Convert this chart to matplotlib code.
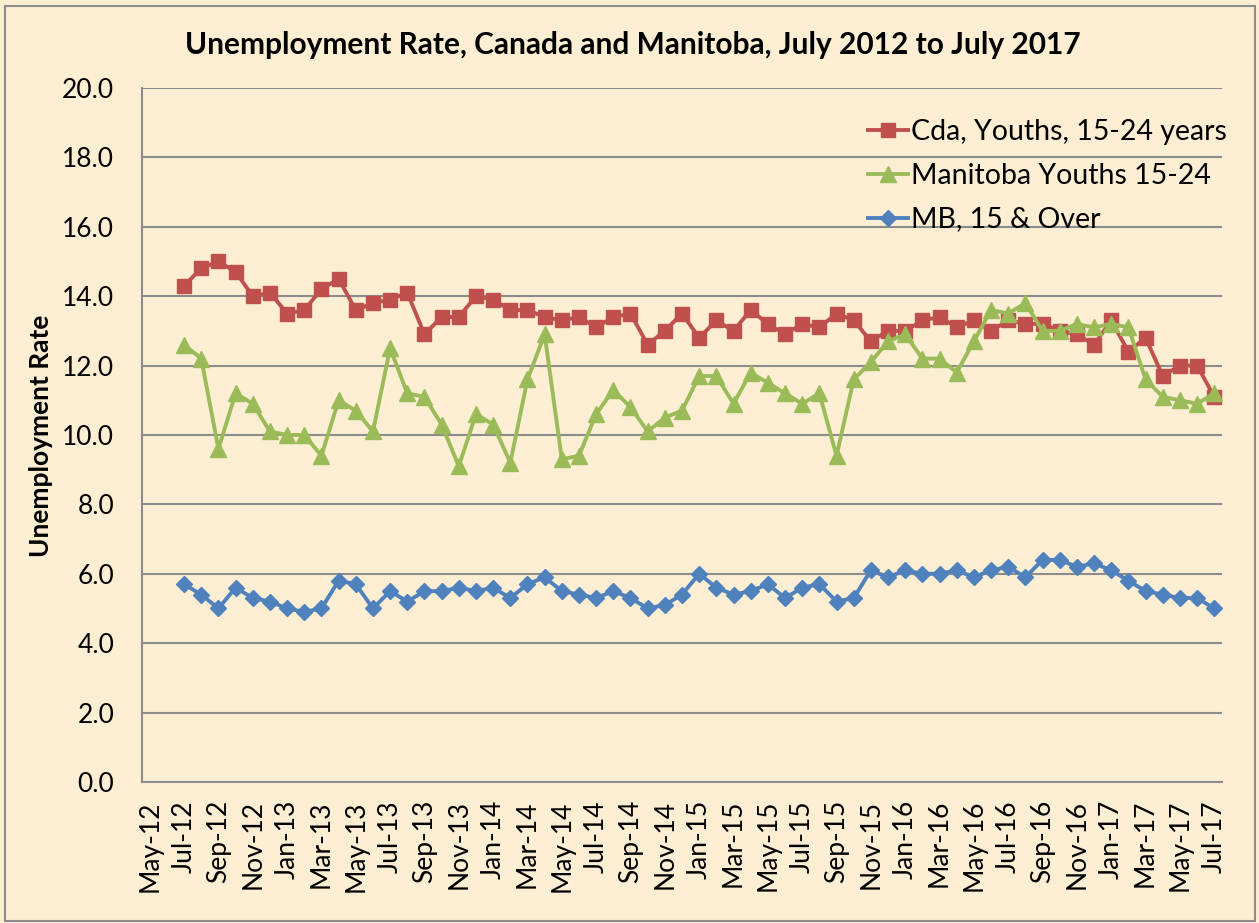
import matplotlib
matplotlib.use("Agg")
import matplotlib.pyplot as plt
from matplotlib.patches import Rectangle

# months Jul-12 .. Jul-17, x position = month index (Jul-12 = 0)
cda_youth = [14.3, 14.8, 15.0, 14.7, 14.0, 14.1, 13.5, 13.6, 14.2, 14.5,
             13.6, 13.8, 13.9, 14.1, 12.9, 13.4, 13.4, 14.0, 13.9, 13.6,
             13.6, 13.4, 13.3, 13.4, 13.1, 13.4, 13.5, 12.6, 13.0, 13.5,
             12.8, 13.3, 13.0, 13.6, 13.2, 12.9, 13.2, 13.1, 13.5, 13.3,
             12.7, 13.0, 13.0, 13.3, 13.4, 13.1, 13.3, 13.0, 13.3, 13.2,
             13.2, 13.0, 12.9, 12.6, 13.3, 12.4, 12.8, 11.7, 12.0, 12.0,
             11.1]
mb_youth = [12.6, 12.2, 9.6, 11.2, 10.9, 10.1, 10.0, 10.0, 9.4, 11.0,
            10.7, 10.1, 12.5, 11.2, 11.1, 10.3, 9.1, 10.6, 10.3, 9.2,
            11.6, 12.9, 9.3, 9.4, 10.6, 11.3, 10.8, 10.1, 10.5, 10.7,
            11.7, 11.7, 10.9, 11.8, 11.5, 11.2, 10.9, 11.2, 9.4, 11.6,
            12.1, 12.7, 12.9, 12.2, 12.2, 11.8, 12.7, 13.6, 13.5, 13.8,
            13.0, 13.0, 13.2, 13.1, 13.2, 13.1, 11.6, 11.1, 11.0, 10.9,
            11.2]
mb_all = [5.7, 5.4, 5.0, 5.6, 5.3, 5.2, 5.0, 4.9, 5.0, 5.8,
          5.7, 5.0, 5.5, 5.2, 5.5, 5.5, 5.6, 5.5, 5.6, 5.3,
          5.7, 5.9, 5.5, 5.4, 5.3, 5.5, 5.3, 5.0, 5.1, 5.4,
          6.0, 5.6, 5.4, 5.5, 5.7, 5.3, 5.6, 5.7, 5.2, 5.3,
          6.1, 5.9, 6.1, 6.0, 6.0, 6.1, 5.9, 6.1, 6.2, 5.9,
          6.4, 6.4, 6.2, 6.3, 6.1, 5.8, 5.5, 5.4, 5.3, 5.3,
          5.0]
months = list(range(len(cda_youth)))

tick_pos = list(range(-2, 61, 2))
tick_labels = ['May-12', 'Jul-12', 'Sep-12', 'Nov-12', 'Jan-13', 'Mar-13', 'May-13', 'Jul-13',
               'Sep-13', 'Nov-13', 'Jan-14', 'Mar-14', 'May-14', 'Jul-14', 'Sep-14', 'Nov-14',
               'Jan-15', 'Mar-15', 'May-15', 'Jul-15', 'Sep-15', 'Nov-15', 'Jan-16', 'Mar-16',
               'May-16', 'Jul-16', 'Sep-16', 'Nov-16', 'Jan-17', 'Mar-17', 'May-17', 'Jul-17']

bg = '#FCEED3'
plt.rcParams['font.family'] = ['Lato', 'DejaVu Sans']

fig = plt.figure(figsize=(12.59, 9.23), dpi=100, facecolor=bg)
ax = fig.add_axes([0.1128, 0.1528, 0.8578, 0.7519])
ax.set_facecolor(bg)

ax.plot(months, cda_youth, color='#C0504D', lw=2.8, marker='s', ms=10.5,
        label='Cda, Youths, 15-24 years')
ax.plot(months, mb_youth, color='#9BBB59', lw=2.8, marker='^', ms=11,
        label='Manitoba Youths 15-24')
ax.plot(months, mb_all, color='#4F81BD', lw=2.8, marker='D', ms=8,
        label='MB, 15 & Over')

ax.set_ylim(0, 20)
ax.set_yticks([i * 2.0 for i in range(11)])
ax.set_yticklabels(['%.1f' % (i * 2.0) for i in range(11)], fontsize=19)
ax.set_xlim(-2.45, 60.45)
ax.set_xticks(tick_pos)
ax.set_xticklabels(tick_labels, rotation=90, fontsize=19)
ax.tick_params(axis='y', length=0, pad=20)
ax.tick_params(axis='x', length=0, pad=13)

ax.grid(axis='y', color='#8C8C8C', lw=1.5)
ax.set_axisbelow(True)
for s in ['top', 'right']:
    ax.spines[s].set_visible(False)
for s in ['left', 'bottom']:
    ax.spines[s].set_color('#8C8C8C')
    ax.spines[s].set_linewidth(1.5)

fig.text(0.0326, 0.528, 'Unemployment Rate', rotation=90, ha='center', va='center',
         fontsize=19, fontweight='bold')
fig.text(0.503, 0.951, 'Unemployment Rate, Canada and Manitoba, July 2012 to July 2017',
         ha='center', va='center', fontsize=21.5, fontweight='bold')

leg = ax.legend(loc='upper left', bbox_to_anchor=(0.672, 0.955), frameon=False,
                borderpad=0, borderaxespad=0, fontsize=20.5, handlelength=1.4,
                handletextpad=0.12, labelspacing=0.62)

fig.patches.append(Rectangle((0.004, 0.002), 0.993, 0.992, transform=fig.transFigure,
                             fill=False, edgecolor='#8C8C8C', lw=1.5))

fig.savefig('out.png', dpi=100, facecolor=bg)
